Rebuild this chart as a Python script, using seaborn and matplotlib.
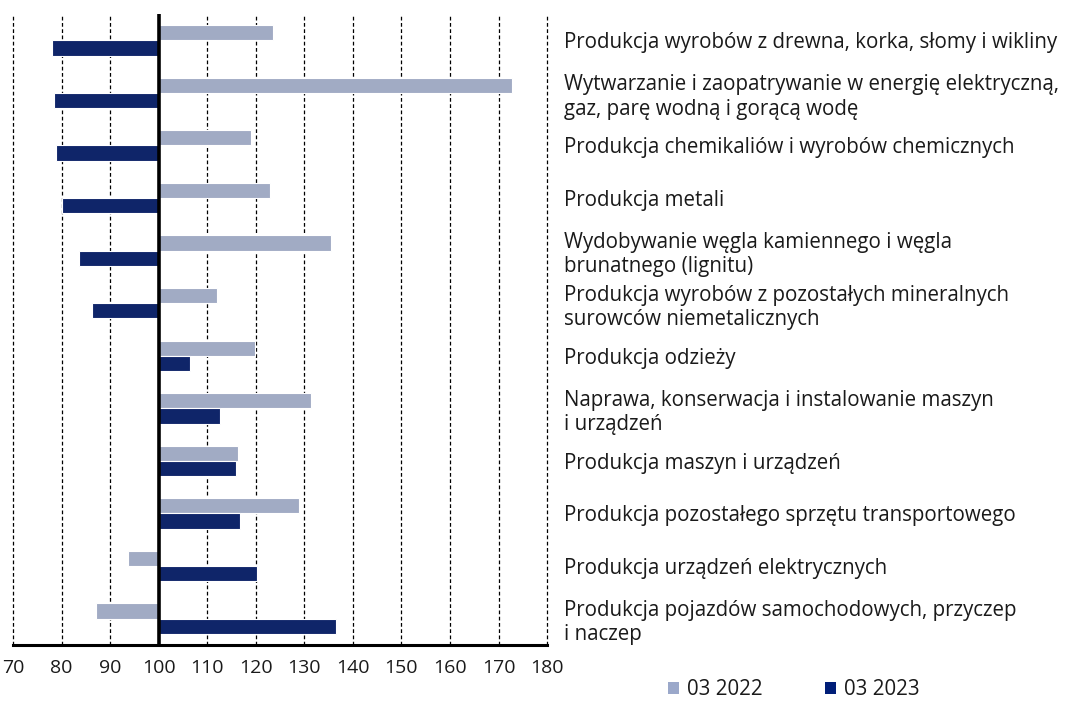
import matplotlib
matplotlib.use("Agg")
import matplotlib.pyplot as plt
import matplotlib.ticker as mticker
from matplotlib.patches import Patch
import seaborn as sns
import pandas as pd

categories = [
    "Produkcja wyrobów z drewna, korka, słomy i wikliny",
    "Wytwarzanie i zaopatrywanie w energię elektryczną,\ngaz, parę wodną i gorącą wodę",
    "Produkcja chemikaliów i wyrobów chemicznych",
    "Produkcja metali",
    "Wydobywanie węgla kamiennego i węgla\nbrunatnego (lignitu)",
    "Produkcja wyrobów z pozostałych mineralnych\nsurowców niemetalicznych",
    "Produkcja odzieży",
    "Naprawa, konserwacja i instalowanie maszyn\ni urządzeń",
    "Produkcja maszyn i urządzeń",
    "Produkcja pozostałego sprzętu transportowego",
    "Produkcja urządzeń elektrycznych",
    "Produkcja pojazdów samochodowych, przyczep\ni naczep",
]
series_names = ["03 2022", "03 2023"]
values_2022 = [123.6, 172.8, 119.0, 122.9, 135.5, 112.1, 119.8, 131.4, 116.3, 129.0, 93.6, 87.1]
values_2023 = [78.1, 78.4, 78.9, 80.1, 83.6, 86.2, 106.5, 112.7, 116.0, 116.8, 120.2, 136.6]
base = 100
ticks = [70, 80, 90, 100, 110, 120, 130, 140, 150, 160, 170, 180]

colors = ["#9BA8CA", "#001E78"]

df = pd.DataFrame({
    "cat": categories * 2,
    "year": [series_names[0]] * len(categories) + [series_names[1]] * len(categories),
    "value": values_2022 + values_2023,
})
df["dev"] = df["value"] - base

font = ["Open Sans", "DejaVu Sans"]
sns.set_style("white")
plt.rcParams["font.family"] = font

fig = plt.figure(figsize=(10.67, 7.01), dpi=100)
ax = fig.add_axes([0.0122, 0.080, 0.5005, 0.900])

sns.barplot(data=df, y="cat", x="dev", hue="year", orient="h",
            palette=colors, width=0.58, gap=0, order=categories,
            hue_order=series_names, edgecolor="white", linewidth=0.8,
            legend=False, ax=ax, zorder=2)

ax.set_xlim(ticks[0] - base, ticks[-1] - base)
ax.set_xticks([t - base for t in ticks])
ax.xaxis.set_major_formatter(mticker.FuncFormatter(lambda v, p: f"{v + base:.0f}"))
ax.set_xlabel("")
ax.set_ylabel("")

for t in ticks:
    if t != base:
        ax.axvline(t - base, color="black", lw=0.9, ls=(0, (3, 2)), zorder=1, clip_on=False)
ax.axvline(0, color="black", lw=2.6, zorder=4)

for s in ["top", "right", "left"]:
    ax.spines[s].set_visible(False)
ax.spines["bottom"].set_linewidth(2.2)
ax.spines["bottom"].set_color("black")
ax.tick_params(axis="x", direction="inout", length=8, width=2, color="black",
               labelsize=14, pad=6, labelcolor="#1a1a1a")

ax.yaxis.tick_right()
ax.tick_params(axis="y", length=0, pad=12, labelsize=14.8, labelcolor="#1a1a1a")
for lab in ax.get_yticklabels():
    lab.set_horizontalalignment("left")
    lab.set_linespacing(1.2)

handles = [Patch(facecolor=c, edgecolor="none") for c in colors]
fig.legend(handles, series_names, loc="center", bbox_to_anchor=(0.744, 0.016),
           ncol=2, frameon=False, fontsize=14.8, handlelength=0.55, handleheight=0.55,
           columnspacing=3.0, handletextpad=0.4, labelcolor="#1a1a1a")

fig.savefig("out.png", dpi=100)
